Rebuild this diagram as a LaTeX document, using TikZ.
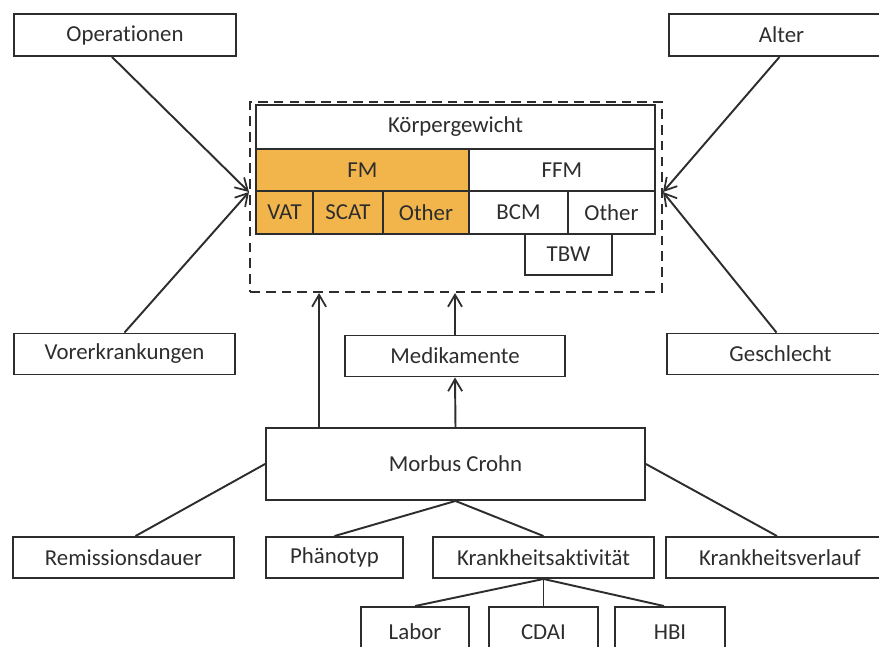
\documentclass[tikz,border=0pt]{standalone}
\usepackage{fontspec}
\setmainfont{Carlito}[Ligatures=NoCommon]
\usepackage{tikz}
\usetikzlibrary{positioning, calc, arrows.meta}
\definecolor{fmorange}{RGB}{241,181,76}
\definecolor{ink}{RGB}{45,45,45}
\tikzset{
        >={Straight Barb[length=2.4mm,width=2.8mm,line width=1pt]}, % open barbed heads
        every node/.style={font=\fontsize{13}{15}\selectfont, text=ink},
        box/.style={draw=ink, line width=1.1pt, rectangle, inner sep=0pt, minimum height=0.82cm}, % plain boxes
        fatbox/.style={box, fill=fmorange}, % the fat mass boxes
        frame/.style={draw=ink, line width=1.2pt, dash pattern=on 5.5pt off 3.5pt, inner sep=0pt}, % dashed outline
        link/.style={draw=ink, line width=1.1pt},
}

\begin{document}
\begin{tikzpicture}[x=0.02cm, y=-0.02cm]
      \useasboundingbox (0,0) rectangle (879,646);

      % outer factors
      \node[box, minimum width=4.44cm, minimum height=0.84cm] (ops) at (125,35) {Operationen};
      \node[box, minimum width=4.50cm, minimum height=0.84cm] (alter) at (781.5,35) {Alter};
      \node[box, minimum width=4.42cm] (vor) at (124.5,354) {Vorerkrankungen};
      \node[box, minimum width=4.54cm] (ges) at (780.5,354) {Geschlecht};
      \node[box, minimum width=4.40cm] (med) at (455,356) {Medikamente};

      % body composition
      \node[frame, minimum width=8.24cm, minimum height=3.80cm] (frame) at (456,197) {};
      \node[box, minimum width=7.98cm, minimum height=0.88cm] (kg) at (455.5,127) {Körpergewicht};
      \node[fatbox, minimum width=4.26cm, minimum height=0.84cm] (fm) at (362.5,170) {FM};
      \node[box, minimum width=3.72cm, minimum height=0.84cm] (ffm) at (562,170) {FFM};
      \node[fatbox, minimum width=1.14cm, minimum height=0.86cm] (vat) at (284.5,212.5) {VAT};
      \node[fatbox, minimum width=1.40cm, minimum height=0.86cm] (scat) at (348,212.5) {SCAT};
      \node[fatbox, minimum width=1.72cm, minimum height=0.86cm] (fmother) at (426,212.5) {Other};
      \node[box, minimum width=1.98cm, minimum height=0.86cm] (bcm) at (518.5,212.5) {BCM};
      \node[box, minimum width=1.74cm, minimum height=0.86cm] (ffmother) at (611.5,212.5) {Other};
      \node[box, minimum width=1.74cm] (tbw) at (568.5,254.5) {TBW};

      % disease
      \node[box, minimum width=7.58cm, minimum height=1.44cm] (mc) at (455.5,464) {Morbus Crohn};
      \node[box, minimum width=4.42cm] (rem) at (123.5,557.5) {Remissionsdauer};
      \node[box, minimum width=2.74cm] (phae) at (334.5,557.5) {Phänotyp};
      \node[box, minimum width=4.42cm] (akt) at (543.5,557.5) {Krankheitsaktivität};
      \node[box, minimum width=4.56cm] (verl) at (780,557.5) {Krankheitsverlauf};
      \node[box, minimum width=2.16cm, minimum height=1.0cm] (labor) at (415,632) {Labor};
      \node[box, minimum width=2.18cm, minimum height=1.0cm] (cdai) at (543.5,632) {CDAI};
      \node[box, minimum width=2.20cm, minimum height=1.0cm] (hbi) at (670,632) {HBI};

      \coordinate (lefttip) at ($(frame.west)+(0,-5)$);
      \coordinate (righttip) at ($(frame.east)+(0,-5)$);
      \coordinate (mcleft) at ($(mc.north west)+(54,0)$);

      \draw[link,->] ($(ops.south)+(-13,0)$) -- (lefttip);
      \draw[link,->] (vor.north) -- (lefttip);
      \draw[link,->] ($(alter.south)+(-2,0)$) -- (righttip);
      \draw[link,->] ($(ges.north)+(-4,0)$) -- (righttip);
      \draw[link,->] (mcleft) -- (mcleft |- frame.south);
      \draw[link,->] (mc.north) -- (med.south);
      \draw[link,->] (med.north) -- (med.north |- frame.south);

      \draw[link] (mc.west) -- ($(rem.north)+(12,0)$);
      \draw[link] (mc.east) -- ($(verl.north)+(-3,0)$);
      \draw[link] (mc.south) -- (phae.north);
      \draw[link] (mc.south) -- (akt.north);
      \draw[link] (akt.south) -- (labor.north);
      \draw[link] (akt.south) -- (cdai.north);
      \draw[link] (akt.south) -- ($(hbi.north)+(-6,0)$);
\end{tikzpicture}
\end{document}
